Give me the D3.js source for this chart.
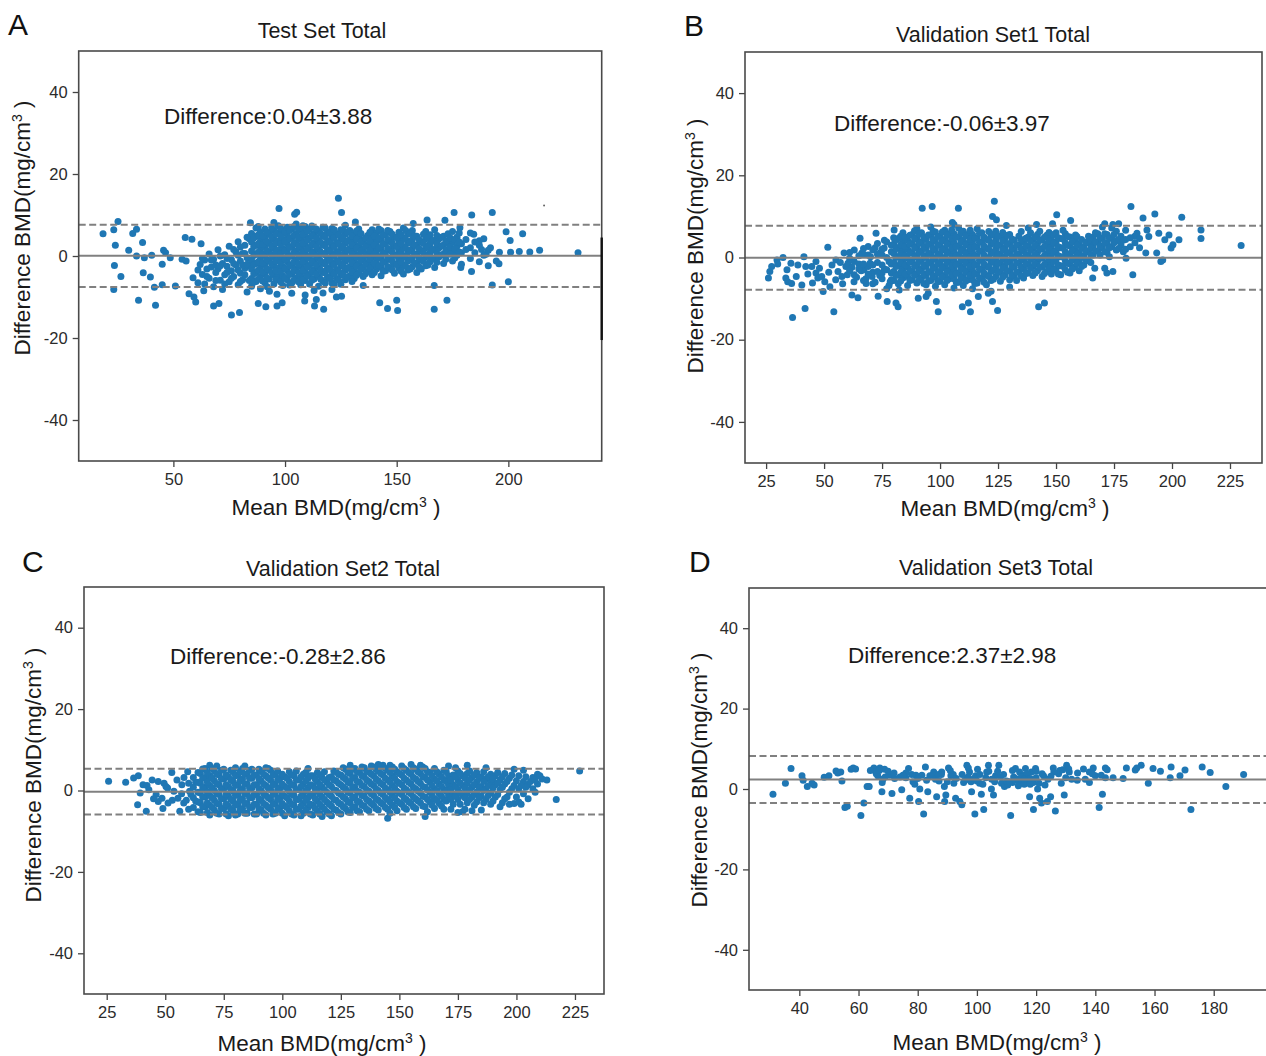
<!DOCTYPE html>
<html lang="en">
<head>
<meta charset="UTF-8">
<title>Bland-Altman plots of BMD</title>
<script src="https://d3js.org/d3.v7.min.js"></script>
<style>
    body { margin: 0; background: #fff; font-family: "Liberation Sans", Arial, sans-serif; }
    .tick text { font-size: 16.5px; fill: #2b2b2b; font-family: "Liberation Sans", Arial, sans-serif; }
    .tick line { stroke: #444; stroke-width: 1.3px; }
    .title { font-size: 21.5px; fill: #1a1a1a; text-anchor: middle; }
    .letter { font-size: 30px; fill: #111; }
    .note { font-size: 22.5px; fill: #1a1a1a; }
    .axis-label { font-size: 22.5px; fill: #1a1a1a; text-anchor: middle; }
</style>
</head>
<body>
<svg id="chart" width="1266" height="1056"></svg>
<script>
// ---- data ----
const yTicks = [-40, -20, 0, 20, 40];
const yDomain = [-50, 50];

// each entry: [mean BMD, [differences at that mean]]
const testSetPoints = [
  [18.5,[5.4]],[23.3,[6.4,-8.2]],[25.2,[8.4]],[24,[2.6]],[23.6,[-2.3]],[26.5,[-5]],[30,[1.4]],[31.8,[5.5]],
  [33.5,[6.5,0]],[34.4,[-10.8]],[36.2,[3.3]],[36.5,[-4.1]],[37,[-0.4]],[39.7,[-5.1]],[40.3,[0.2]],[42,[-12]],
  [41.5,[-7.6]],[45,[-2,-7]],[45.6,[1.4]],[46.5,[0.8]],[48.6,[-0.4]],[50.9,[-7.3]],[53.9,[-0.8]],[55.3,[4.5]],
  [58.3,[4.1]],[55.7,[-1.2]],[57,[-9.2]],[59.2,[-10]],[60,[-11.2]],[58.8,[-5.3]],[61,[-6.5]],[63.6,[-8.5]],
  [62.4,[3]],[68,[-12.2]],[70.4,[-11.6]],[76,[-14.4]],[79.6,[-13.8]],[84.5,[8.1]],[88,[-11.6]],[91.4,[-12.4]],
  [96.4,[-9.3,-12.2]],[98.7,[-11.4]],[97.3,[11.6]],[104.3,[10.2]],[105.2,[10.7]],[108.8,[-11]],[113.2,[-12.2]],
  [117.3,[-13]],[114,[-10.6]],[123.9,[14.1]],[125.3,[10.6,-9.8]],[131.5,[8.3]],[142.4,[-11.4]],[145.9,[-12.8]],
  [150,[-10.8]],[150.4,[-13.3]],[157.4,[7.9]],[163.6,[8.8]],[166.8,[-13,-7.2]],[172.5,[-10.8]],[171.6,[8.7]],
  [175.7,[10.6]],[183.6,[10]],[178.3,[6.9]],[184.5,[5.3]],[183.5,[-3.8]],[178.7,[-2.8]],[192.8,[10.6,-7.1]],
  [199,[5.9]],[200,[-6.3]],[200.8,[3.8]],[195.8,[-1.9]],[206.4,[5.4]],[204.9,[1.1]],[209.6,[1]],[214,[1.4]],
  [231.2,[0.8]],[196,[0.9]],[201,[0.9]],[190,[0.4]],[188,[1.6]],[187,[3.7]],[192,[2]],[194.6,[-1.2]],
  [62,[-2.1]],[63,[-4.5]],[64,[-1,-6.8]],[65,[-3.2]],[66,[0.5,-5.4]],[67,[-2.7]],[68,[-7.5,-0.8]],[69,[-4]],
  [70,[1.5,-3.1]],[71,[-5.9]],[72,[-1.8,-8.2]],[73,[0.3,-4.6]],[74,[-2.5]],[75,[2.4,-6.3]],[76,[-3.6,-0.9]],
  [77,[-5]],[78,[1,-2.2]],[79,[-7,3.5]],[80,[-4.2,-1.2]],[81,[0.6,-5.8]],[82,[-3,2.6]],[83,[-8.8,-0.4]],
  [84,[4.2,-2.4,-6]],
  [61,[-3.4]],[63,[-0.6]],[65,[-5]],[67,[-1]],[69,[-2.2,-6]],[71,[-2.4,0]],[73,[-6.8]],[74,[-0.6,-4]],[76,[-5.4]],
  [77,[-1.8,1.6]],[79,[-3.4,0.2]],[80,[-6.2,2.2]],[81,[-2.2]],[82,[-4.6,0.6]],[83,[-2,4.6]],
  [85,[-5.5,-3.2,-1,1.2,3.4,5.5,-7.4]],[87,[-6.2,-4,-1.8,0.4,2.6,4.8,6.8]],[89,[-5,-2.9,-0.7,1.5,3.7,5.9,-8]],
  [91,[-6.5,-4.3,-2.1,0.2,2.3,4.5,6.6]],[93,[-5.6,-3.4,-1.2,1,3.1,5.3,-8.6]],[95,[-6.8,-4.6,-2.4,-0.2,2,4.1,6.3,8.2]],
  [97,[-5.2,-3,-0.8,1.4,3.6,5.7,7.4]],[99,[-7.2,-4.9,-2.6,-0.4,1.8,4,6.1]],[101,[-5.8,-3.6,-1.4,0.8,3,5.1,7]],
  [103,[-6.6,-4.4,-2.2,0,2.2,4.4,6.6,-9.1]],[105,[-5.4,-3.2,-1,1.2,3.3,5.5,7.8]],[107,[-7,-4.8,-2.5,-0.3,1.9,4.1,6.2]],
  [109,[-6,-3.8,-1.6,0.6,2.8,5,7.2,-9.5]],[111,[-6.8,-4.5,-2.3,-0.1,2.1,4.3,6.5]],[113,[-5.6,-3.4,-1.2,1,3.2,5.4,-8.4]],
  [115,[-7.4,-5,-2.8,-0.6,1.6,3.8,6]],[117,[-6.2,-4,-1.8,0.4,2.6,4.8,7,-9]],[119,[-5.2,-3,-0.8,1.4,3.6,5.8]],
  [121,[-6.6,-4.3,-2.1,0.1,2.3,4.5,6.7,-8.2]],[123,[-5.5,-3.3,-1.1,1.1,3.3,5.5,-10]],[125,[-6.9,-4.6,-2.4,-0.2,2,4.2,6.4]],
  [127,[-5.8,-3.5,-1.3,0.9,3.1,5.3,7.5]],[129,[-4.8,-2.6,-0.4,1.8,4,6.2]],[131,[-5.5,-3.3,-1.1,1.1,3.3,5.5]],
  [133,[-4.2,-2,0.2,2.4,4.6,6.6]],[135,[-5,-2.8,-0.6,1.6,3.8,-7.2]],
  [137,[-3.8,-1.6,0.6,2.8,5]],[139,[-4.6,-2.4,-0.2,2,4.2,6.4]],[141,[-3.2,-1,1.2,3.4,5.6]],[143,[-4.8,-2.6,-0.4,1.8,4,6.2]],
  [145,[-3.6,-1.4,0.8,3,5.2]],[147,[-2.8,-0.6,1.6,3.8,6]],[149,[-4.2,-2,0.2,2.4,4.6]],[151,[-3,-0.8,1.4,3.6,5.8]],
  [153,[-4.4,-2.2,0,2.2,4.4,6.8]],[155,[-3.4,-1.2,1,3.2,5.4]],[157,[-2.6,-0.4,1.8,4,6.2]],[159,[-4,-1.8,0.4,2.6,4.8]],
  [161,[-3.2,-1,1.2,3.4]],[163,[-2.4,-0.2,2,4.2,6]],[165,[-1.4,0.8,3,5.2]],[167,[-2.8,-0.6,1.6,3.8,6.4]],
  [169,[-0.2,2,4.2]],[171,[-1.8,0.4,2.6,4.8]],[173,[1,3.2,5.4]],[175,[-1.2,1,3.4,6]],[177,[0.2,2.4,4.6]],
  [179,[-2,0.8,3]],[181,[1.6,4]],[183,[-0.6,2,5.6]],[185,[0.8,3.4]],[187,[-1.4,2.6]],[189,[0.2,4.2]],[191,[-2.4,1.4]],
  [86,[-4.3,-2.1,0.1,2.3,4.4,-6.4]],[88,[-5.7,-3.5,-1.4,0.9,3,5.1,7.2]],[90,[-3.9,-1.7,0.5,2.8,4.9,-6.1]],
  [92,[-5.4,-3.2,-0.9,1.3,3.5,5.8,-7.5]],[94,[-4.1,-1.9,0.3,2.5,4.7,6.9]],[96,[-5.8,-3.6,-1.3,0.9,3.1,5.3]],
  [98,[-3.8,-1.6,0.6,2.9,5,6.8,-6.3]],[100,[-5.4,-3.1,-0.9,1.3,3.6,5.9]],[102,[-4.5,-2.4,-0.1,2.1,4.2,6.2,-7.1]],
  [104,[-5.9,-3.6,-1.5,0.8,3,5,7.2]],[106,[-4.1,-2,0.3,2.5,4.6,6.7,-6.3]],[108,[-5.8,-3.5,-1.3,0.9,3.1,5.3,7.4]],
  [110,[-4.8,-2.7,-0.5,1.7,3.9,6.1]],[112,[-5.9,-3.8,-1.5,0.7,2.8,5,7.3]],[114,[-4.4,-2.2,0,2.3,4.4,6.6]],
  [116,[-5.7,-3.4,-1.2,1,3.3,5.5]],[118,[-4.1,-1.9,0.3,2.5,4.7,6.8,-6.6]],[120,[-5.5,-3.3,-1.1,1.2,3.4,5.6]],
  [122,[-4.3,-2.1,0.1,2.3,4.5,6.4,-7]],[124,[-5.9,-3.7,-1.4,0.8,3,5.2]],[126,[-4.6,-2.4,-0.2,2,4.2,6.3]],
  [128,[-5.2,-3,-0.8,1.4,3.6,5.8]],[130,[-3.9,-1.7,0.5,2.7,4.9,-6.2]],[132,[-4.7,-2.5,-0.3,1.9,4.1,6.1]],
  [134,[-3.2,-1,1.2,3.4,5.5]],[136,[-4.3,-2.1,0.1,2.3,4.4]],[138,[-3,-0.8,1.4,3.6,5.8]],[140,[-4,-1.8,0.4,2.6,4.9]],
  [142,[-2.3,-0.1,2.1,4.4,6.6]],[144,[-3.7,-1.5,0.7,2.9,5.1]],[146,[-2.6,-0.4,1.8,4,6.2]],[148,[-3.4,-1.2,1,3.2,5.3]],
  [150,[-2.1,0.1,2.3,4.5]],[152,[-3.7,-1.5,0.7,3,5.1]],[154,[-2.5,-0.3,1.9,4.1,6.2]],[156,[-3.2,-1,1.2,3.3,5.5]],
  [158,[-1.7,0.5,2.7,4.9]],[160,[-2.6,-0.4,1.8,4]],[162,[-1.3,0.9,3.1,5.3]],[164,[-2.2,0,2.2,4.4]],
  [166,[-0.6,1.6,3.8]],[168,[-1.5,0.7,2.9,5]],[170,[0.3,2.5,4.6]],[172,[-0.8,1.4,3.6]],[174,[0.4,2.2,4.4]],
  [176,[-0.5,1.8,4]],[178,[1,3.4,5.6]]
];
// stray marks at the right edge of panel A
const testSetEdgeBar = [4.5, -20.5];
const testSetSpeck = [216, 12.3];

const validation1Points = [
  [26,[-5]],[26.6,[-3.4]],[27.4,[-2.2]],[29.7,[-0.6]],[30,[-1.6]],[32.3,[0]],[33.5,[-5]],[34,[-3]],[34.3,[-5.9]],
  [35.7,[-1.4]],[36,[-6.3]],[36.4,[-14.6]],[38,[-4.6]],[38.7,[-1.8]],[40.4,[-6.7]],[41.3,[0.2]],[41.8,[-12.4]],
  [42.1,[-2.2]],[43,[-4]],[44.7,[-2.2]],[45,[-6.2]],[46.5,[-1,-3.8]],[47.3,[-5]],[48,[-2.6]],[49,[-4.6]],
  [49.6,[-8.3]],[50.3,[-5.9]],[51.6,[2.5]],[52,[-3.6]],[52.5,[-7.1]],[53.4,[-1.8]],[54.2,[-13.2]],[55,[-5.4]],
  [55.1,[-0.6]],[56,[-3.4]],[57,[-1.2]],[57.7,[-4.6]],[58,[-6.4]],[58.6,[1.1]],[59.4,[-2.2]],[60,[-4.2]],
  [60.3,[-1.4]],[61,[-0.2]],[62,[-9.1,-2.4]],[62.9,[-5.9]],[63,[1.8]],[64,[-4.8]],[64.6,[-9.8]],[65,[-1.6]],
  [65.5,[4.7]],[66,[-3.2]],[66.3,[1.1]],[67,[0.8]],[67.2,[-3]],[68,[-5.2]],[68.1,[-6.3]],[69,[2.7,-2.2]],
  [69.8,[-1.4]],[70,[0.2]],[70.7,[-4.6]],[71,[-3.6]],[72,[2.4,-6]],[72.4,[5.9]],[73,[-1.2]],[73.3,[-9.4]],
  [74,[-4.4]],[74.1,[1.1]],[75,[0.6,-3.8]],[75.9,[2.3]],[76,[-2.8,4.2]],[77,[3.8]],[77.2,[-10.7]],[78,[-1,-6.8]],
  [78.5,[-5.9]],[79,[1.4,-3.8]],[80.2,[6.7]],[81,[-11.1]],[81.9,[-12]],[82.4,[-7.9]],[90.6,[-9.9]],[94,[-9.5]],
  [94.9,[-8.7]],[92.3,[12]],[96.6,[12.4]],[98.4,[-10.7]],[99.2,[-13.2]],[107.9,[12]],[105.3,[8.5]],[109.6,[-12]],
  [112.2,[-11.1]],[113.1,[-13.2]],[116.5,[-9.5]],[120.8,[-8.7]],[122.6,[10,-10.7]],[123.4,[13.7]],[124.3,[9.2]],
  [124.8,[-12.9]],[128.6,[7.8]],[141.6,[8]],[142.5,[-12]],[145,[-11.1]],[150.3,[10.4]],[156.3,[9]],[148.5,[8.2]],
  [158.4,[5.5]],[165.8,[-5]],[166.7,[-2.6]],[171,[-2.6,8.2]],[171.9,[-3.8]],[174.5,[-3.4,8]],[177,[8.2]],
  [180.2,[-0.2]],[182.3,[12.4]],[183.1,[-4.2]],[184.9,[5.9]],[187.5,[9.6]],[189.2,[6.7]],[188.7,[1.1]],[190,[5.1]],
  [192.6,[10.6]],[193.4,[1.1]],[194.3,[5.9]],[195.2,[-1]],[196,[-0.6]],[196.9,[4.3]],[198.7,[5.5]],[199.6,[2.3]],
  [200.4,[3.1]],[203,[4.3]],[204.2,[9.8]],[212.5,[6.7,4.6]],[229.8,[2.9]],
  [61,[-3.2,1.2]],[63,[-1,-4.2]],[65,[0.4,-2.8]],[67,[-5.6,-1.6,2.2]],[69,[-4,0.6]],[71,[-1.8,1.8,-6.4]],
  [73,[-3.4,0.8,3.4]],[75,[-5.2,-1.8,2]],[77,[-3,0,-7.6]],[79,[-5.4,-1.6,3]],[80,[4.8]],
  [80,[-5.6,-3.4,-1.2,1,3.2]],[82,[-6.4,-4.2,-2,0.2,2.4,4.6]],[84,[-5,-2.8,-0.6,1.6,3.8,6]],
  [86,[-6.8,-4.6,-2.4,-0.2,2,4.2]],[88,[-5.4,-3.2,-1,1.2,3.4,5.6]],[90,[-6.2,-4,-1.8,0.4,2.6,4.8,7]],
  [92,[-5,-2.8,-0.6,1.6,3.8,6]],[94,[-6.6,-4.4,-2.2,0,2.2,4.4]],[96,[-5.6,-3.4,-1.2,1,3.2,5.4,7.4]],
  [98,[-7,-4.8,-2.6,-0.4,1.8,4,6.2]],[100,[-5.8,-3.6,-1.4,0.8,3,5.2]],[102,[-6.6,-4.4,-2.2,0,2.2,4.4,6.6]],
  [104,[-5.2,-3,-0.8,1.4,3.6,5.8]],[106,[-7.4,-5.2,-3,-0.8,1.4,3.6,5.8,8]],[108,[-6,-3.8,-1.6,0.6,2.8,5,7.2]],
  [110,[-6.8,-4.6,-2.4,-0.2,2,4.2,6.4]],[112,[-5.4,-3.2,-1,1.2,3.4,5.6]],[114,[-7.6,-5.4,-3.2,-1,1.2,3.4,5.6]],
  [116,[-6.2,-4,-1.8,0.4,2.6,4.8,7]],[118,[-5,-2.8,-0.6,1.6,3.8,6]],[120,[-6.6,-4.4,-2.2,0,2.2,4.4]],
  [122,[-5.6,-3.4,-1.2,1,3.2,5.4,-8.2]],[124,[-4.6,-2.4,-0.2,2,4.2,6.4]],[126,[-5.8,-3.6,-1.4,0.8,3,5.2]],
  [128,[-4.2,-2,0.2,2.4,4.6]],[130,[-5.4,-3.2,-1,1.2,3.4,5.6,-7.2]],[132,[-4.6,-2.4,-0.2,2,4.2]],
  [134,[-3.6,-1.4,0.8,3,5.2]],[136,[-5,-2.8,-0.6,1.6,3.8]],[138,[-3.8,-1.6,0.6,2.8,5,7.2]],
  [140,[-4.4,-2.2,0,2.2,4.4]],[142,[-3.2,-1,1.2,3.4,5.6]],[144,[-4.6,-2.4,-0.2,2,4.2]],[146,[-3.4,-1.2,1,3.2,5.4]],
  [148,[-4,-1.8,0.4,2.6,4.8]],[150,[-2.8,-0.6,1.6,3.8,6]],[152,[-4.2,-2,0.2,2.4,4.6]],[154,[-3,-0.8,1.4,3.6,5.8]],
  [156,[-3.8,-1.6,0.6,2.8,5]],[158,[-2.4,-0.2,2,4.2]],[160,[-3.2,-1,1.2,3.4]],[162,[-1.8,0.4,2.6]],
  [164,[-0.8,1.4,3.6,5.2]],[166,[0.6,2.8,5]],[168,[1.6,3.8,5.8]],[170,[2.4,4.6,7.4]],[172,[1.2,3.4,5.6]],
  [174,[2.6,4.8,7.2]],[176,[1.8,4,6.4]],[178,[3,5.2]],[180,[2,4.4,6.6]],[184,[3.6,5.2]],[186,[2.4,4.6]],
  [81,[-4.4,-2.2,0,2.1,4.3]],[83,[-5.7,-3.6,-1.3,0.9,3.1,5.2]],[85,[-4,-1.8,0.5,2.7,4.9]],
  [87,[-5.6,-3.4,-1.1,1.1,3.3,5.4]],[89,[-4.3,-2.1,0.1,2.3,4.5,6.5]],[91,[-5.5,-3.2,-1,1.2,3.5,5.8]],
  [93,[-4,-1.8,0.4,2.7,4.9,-6.3]],[95,[-5.7,-3.5,-1.2,1,3.2,5.5]],[97,[-4.5,-2.3,-0.1,2.1,4.4,6.4]],
  [99,[-5.9,-3.7,-1.5,0.8,3,5.1]],[101,[-4.7,-2.5,-0.3,1.9,4.1,6.2]],[103,[-5.6,-3.4,-1.2,1.1,3.3,5.5]],
  [105,[-4.2,-2,0.2,2.4,4.6,6.7]],[107,[-6.1,-3.9,-1.7,0.5,2.7,4.9]],[109,[-5,-2.8,-0.6,1.6,3.8,6]],
  [111,[-5.8,-3.6,-1.4,0.9,3.1,5.3]],[113,[-4.3,-2.1,0.1,2.3,4.5,6.6]],[115,[-6.3,-4.1,-1.9,0.3,2.5,4.6]],
  [117,[-5.1,-2.9,-0.7,1.5,3.7,5.9]],[119,[-6,-3.8,-1.6,0.6,2.8,4.9]],[121,[-4.6,-2.4,-0.2,2,4.2,6.3]],
  [123,[-5.3,-3.1,-0.9,1.3,3.5,5.6]],[125,[-3.6,-1.4,0.8,3,5.2]],[127,[-4.8,-2.6,-0.4,1.8,4,6.1]],
  [129,[-3.3,-1.1,1.1,3.3,5.4]],[131,[-4.3,-2.1,0.1,2.3,4.5]],[133,[-5.6,-3.5,-1.3,0.9,3.1]],
  [135,[-4.5,-2.3,-0.1,2.1,4.3,6.3]],[137,[-3.9,-1.7,0.5,2.7,4.7]],[139,[-2.7,-0.5,1.7,3.9,6]],
  [141,[-3.8,-1.6,0.6,2.8,5]],[143,[-2.3,-0.1,2.1,4.3,6.4]],[145,[-3.9,-1.7,0.5,2.7,4.9]],
  [147,[-2.6,-0.4,1.8,4,6.1]],[149,[-3.1,-0.9,1.3,3.5,5.6]],[151,[-4,-1.8,0.4,2.6,4.8]],
  [153,[-2.1,0.1,2.3,4.5,6.6]],[155,[-3.6,-1.4,0.8,3,5.1]],[157,[-2.8,-0.6,1.6,3.8]],[159,[-1.4,0.8,3,5.1]],
  [161,[-2.2,0,2.2,4.4]],[163,[-0.6,1.6,3.8]],[165,[-1.2,0.6,2.4,4.2]],[167,[1.6,3.8,6]],[169,[0.6,2.8,4.8]],
  [171,[1.4,3.6,5.8]],[173,[0.2,2.4,4.6]],[175,[3.6,5.6]],[177,[2.2,4.4]],[179,[1.4,4.2]],[182,[2.6,4.8]]
];

const validation2Points = [
  [25.8,[2.3]],[33.1,[2]],[36.5,[3.1]],[38.5,[3.6]],[38.2,[-3.5]],[39.3,[-0.6]],[40.5,[1.4]],[41.9,[-5.1]],
  [42.2,[1.2]],[44.4,[2.6]],[46.1,[-1]],[47,[-2.7]],[48.6,[-1.9]],[49.5,[1.8]],[51.2,[-3.1]],[50.3,[1]],
  [52.8,[4.4]],[53.7,[-0.2]],[55.4,[-1.9]],[56.2,[-5.1]],[57.1,[1.4]],[57.9,[-3.1]],[59.6,[4.6]],[60.4,[-0.2]],
  [43,[0.2]],[45,[-2]],[47,[2.2]],[49,[-4.4]],[51,[0.6]],[53,[-2.4]],[55,[2.6]],[57,[-0.8]],[58,[3.2]],
  [59,[-2.4]],[60,[1.8,-4.6]],[61,[-1]],[63,[-2.6,2]],
  [62,[-4.2,-1.8,0.8,3.2]],[65,[-5.4,-3,-0.6,1.8,4.2]],[67,[-4,-1.6,0.8,3.2,5.4]],[69,[-6,-3.6,-1.2,1.2,3.6,6.2]],
  [71,[-4.8,-2.4,0,2.4,4.8]],[73,[-5.8,-3.4,-1,1.4,3.8]],[75,[-4.4,-2,0.4,2.8,5.2]],[77,[-6.2,-3.8,-1.4,1,3.4]],
  [79,[-5,-2.6,-0.2,2.2,4.6]],[81,[-5.8,-3.4,-1,1.4,3.8]],[83,[-4.4,-2,0.4,2.8,5.4]],[85,[-5.6,-3.2,-0.8,1.6,4]],
  [87,[-4.2,-1.8,0.6,3,5.2]],[89,[-5.8,-3.4,-1,1.4,3.8]],[91,[-4.8,-2.4,0,2.4,4.8]],[93,[-6,-3.6,-1.2,1.2,3.6,5.6]],
  [95,[-4.6,-2.2,0.2,2.6,5]],[97,[-5.6,-3.2,-0.8,1.6,4]],[99,[-4.2,-1.8,0.6,3]],[101,[-6.2,-3.8,-1.4,1,3.4]],
  [103,[-5,-2.6,-0.2,2.2,4.6]],[105,[-6,-3.6,-1.2,1.2,3.6]],[107,[-4.6,-2.2,0.2,2.6]],[109,[-5.6,-3.2,-0.8,1.6,4]],
  [111,[-4.2,-1.8,0.6,3,5.4]],[113,[-6,-3.6,-1.2,1.2,3.6]],[115,[-5,-2.6,-0.2,2.2,4.4]],[117,[-6.4,-4,-1.6,0.8,3.2]],
  [119,[-5.2,-2.8,-0.4,2]],[121,[-6.2,-3.8,-1.4,1,3.4]],[123,[-4.8,-2.4,0,2.4,4.6]],[125,[-5.8,-3.4,-1,1.4,3.8]],
  [127,[-4.4,-2,0.4,2.8,5.2]],[129,[-5.4,-3,-0.6,1.8,4.2,6.2]],[131,[-4,-1.6,0.8,3.2,5.4]],[133,[-5.2,-2.8,-0.4,2,4.4]],
  [135,[-3.8,-1.4,1,3.4,5.6]],[137,[-5,-2.6,-0.2,2.2,4.6]],[139,[-3.6,-1.2,1.2,3.6,5.8]],[141,[-4.8,-2.4,0,2.4,4.8,6.4]],
  [143,[-3.4,-1,1.4,3.8,6.2]],[145,[-6.8,-4.6,-2.2,0.2,2.6,5]],[147,[-3.6,-1.2,1.2,3.6,5.8]],[149,[-5,-2.6,-0.2,2.2,4.6]],
  [151,[-3.4,-1,1.4,3.8,6]],[153,[-4.6,-2.2,0.2,2.6,5]],[155,[-3.2,-0.8,1.6,4,6.4]],[157,[-4.4,-2,0.4,2.8,5.2]],
  [159,[-3,-0.6,1.8,4.2,6.2]],[161,[-6.4,-4,-1.6,0.8,3.2,5.4]],[163,[-2.8,-0.4,2,4.4]],[165,[-4.4,-2,0.4,2.8,5.4]],
  [167,[-3.2,-0.8,1.6,4]],[169,[-4.6,-2.2,0.2,2.6,5]],[171,[-1.2,1.2,3.6,6]],[173,[-3.4,-1,1.4,3.8]],
  [175,[-5.4,-2.2,0.2,2.6,4.8]],[177,[-5.2,-1.2,1.2,3.6]],[179,[-3,-0.6,1.8,4.2,6.2]],[181,[-5,-1.6,0.8,3.2]],
  [183,[-2.8,-0.4,2,4.4]],[185,[-4.8,-1.4,1,3.4]],[187,[-2.2,0.4,2.8,5.6]],[189,[-3.4,-0.6,1.8,4]],
  [191,[-1.6,1.4,3.6]],[193,[-4,0.2,2.6]],[195,[-2,1.6,4.2]],[197,[-3.4,-0.4,3]],[199,[-3.2,1.2,5.2]],
  [201,[-2.8,0.4,3.6]],[203,[-0.8,2.2,5]],[205,[-2,1.4]],[207,[0.4,3.2]],[209,[1.6,4]],[211,[2.8]],[213,[2.6]],
  [217,[-2.2]],[227,[4.8]],
  [64,[-5.2,-2.8,-0.4,2,4.4]],[66,[-4,-1.6,0.6,3,5.3]],[68,[-5.4,-3,-0.4,2,4.4]],[70,[-4.2,-1.8,0.6,3,5.4]],
  [72,[-5.6,-3.2,-0.8,1.6,4,6]],[74,[-4.4,-2,0.4,2.8,5]],[76,[-5.8,-3.4,-1,1.4,3.8]],[78,[-4.6,-2.2,0.2,2.6,5]],
  [80,[-6,-3.6,-1.2,1.2,3.6,5.6]],[82,[-4.8,-2.4,0,2.4,4.6]],[84,[-5.6,-3.2,-0.8,1.6,4,6]],[86,[-4.2,-1.8,0.6,3,5]],
  [88,[-5.8,-3.4,-1,1.4,3.8]],[90,[-4.4,-2,0.4,2.8,5.2]],[92,[-5.6,-3.2,-0.8,1.6,4]],[94,[-4.2,-1.8,0.6,3,5.4]],
  [96,[-5.8,-3.4,-1,1.4,3.8]],[98,[-4.6,-2.2,0.2,2.6,4.8]],[100,[-5.6,-3.2,-0.8,1.6,4]],[102,[-4.2,-1.8,0.6,3]],
  [104,[-5.8,-3.4,-1,1.4,3.8]],[106,[-4.6,-2.2,0.2,2.6,4.8]],[108,[-6.2,-3.8,-1.4,1,3.4]],[110,[-4.8,-2.4,0,2.4,4.4]],
  [112,[-5.8,-3.4,-1,1.4,3.6]],[114,[-4.4,-2,0.4,2.8]],[116,[-5.8,-3.4,-1,1.4,3.8]],[118,[-4.6,-2.2,0.2,2.6,4.6]],
  [120,[-5.8,-3.4,-1,1.4,3.2]],[122,[-4.6,-2.2,0.2,2.6,4.8]],[124,[-5.4,-3,-0.6,1.8,4]],[126,[-4,-1.6,0.8,3.2,5.6]],
  [128,[-5.2,-2.8,-0.4,2,4.4]],[130,[-4.2,-1.8,0.6,3,5.2]],[132,[-5,-2.6,-0.2,2.2,4.6]],[134,[-3.6,-1.2,1.2,3.6,5.8]],
  [136,[-4.6,-2.2,0.2,2.6,4.8]],[138,[-3.2,-0.8,1.6,4,6]],[140,[-4.4,-2,0.4,2.8,5.2]],[142,[-3,-0.6,1.8,4.2,5.8]],
  [144,[-4.2,-1.8,0.6,3,5.4]],[146,[-5.6,-2.8,-0.4,2,4.4,6.2]],[148,[-4.2,-1.8,0.6,3,5.2]],[150,[-3,-0.6,1.8,4.2]],
  [152,[-4.2,-1.8,0.6,3,5.4]],[154,[-2.8,-0.4,2,4.4]],[156,[-4,-1.6,0.8,3.2,5.6]],[158,[-2.6,-0.2,2.2,4.6]],
  [160,[-3.8,-1.4,1,3.4,5.8]],[162,[-5.2,-2.2,0.2,2.6,4.6]],[164,[-3.6,-1.2,1.2,3.6]],[166,[-2.4,0,2.4,4.6]],
  [168,[-3.8,-1.4,1,3.4]],[170,[-2.6,-0.2,2.2,4.6]],[172,[-4.6,-2.2,0.2,2.6]],[174,[-1.4,1,3.4,5.6]],
  [176,[-3.4,-0.6,1.8,4.2]],[178,[-4.6,-1.8,0.6,3]],[180,[-2.2,0.2,2.6,4.8]],[182,[-3.6,-1,1.4,3.8]],
  [184,[-1.8,0.6,3]],[186,[-3,0,2.2,4.6]],[188,[-1.2,1.2,3.4]],[190,[-2.6,0.6,2.8]],[192,[-1,1.8,4.4]],
  [194,[-3,0.8,3.4]],[196,[-1.6,2.2]],[198,[0.4,3.8]],[200,[-1.6,2.4]],[202,[-3.4,1.2]],[204,[0.8,3.4]],
  [206,[2.2]],[208,[-0.4,2.6]],[210,[3.6]]
];

const validation3Points = [
  [31.1,[-1.3]],[35.3,[1.4]],[37.2,[5.1]],[40.9,[3.3]],[41.3,[2.2]],[42.7,[0.6]],[44.3,[1.4]],[48.4,[2.9]],
  [50,[3.3]],[52.4,[4.5]],[54,[4.2]],[54.4,[2]],[55.4,[-4.6]],[56.2,[-4.3]],[57.5,[4.9]],[58.2,[5.2]],
  [60.8,[-6.6]],[61.8,[-3.5]],[62.9,[0.6]],[63.6,[0.6]],[65.2,[5.2]],[65.9,[4.2]],[66.5,[3.3]],[67.2,[5.2]],
  [67.9,[-0.7]],[68.2,[2.4]],[68.8,[4.9]],[70.6,[3.4]],[71.3,[-1.1]],[72.2,[2.6]],[74.6,[-0.2]],[76,[2.8]],
  [76.9,[5.1]],[77.3,[-2.3]],[78.4,[1.8]],[79.4,[3.4]],[80.3,[-3.1]],[80.7,[0]],[81.4,[3.4]],[82,[-6.2]],
  [82.6,[5.5]],[83.4,[-0.7]],[84.1,[3.3]],[85.4,[4.2]],[86.4,[-1.9]],[87.2,[2]],[88.1,[4.2]],[89.1,[-3.1]],
  [89.5,[-1.5]],[90.4,[5.2]],[91.2,[3.3]],[92.2,[1.4]],[92.8,[-2.3]],[94.2,[-3.1]],[94.9,[-3.9]],[95.5,[1.6]],
  [96.6,[5.9]],[97.1,[5.2]],[97.5,[4.2]],[98.2,[-0.7]],[99.3,[-6.2]],[99.6,[3.3]],[100.2,[4.9]],[100.9,[1.4]],
  [101.5,[-1.3]],[102.3,[-5.1]],[103.3,[4.2]],[103.9,[5.9]],[104.9,[0]],[105.6,[-1.5]],[106.3,[3.3]],[107.4,[5.9]],
  [108.3,[1.4]],[109.3,[0.6]],[110.4,[1]],[111.4,[-6.6]],[112.4,[3]],[113,[5.1]],[113.7,[2.2]],[114.4,[4.2]],
  [115,[1.4]],[115.7,[3.4]],[116.4,[5.1]],[117.1,[2]],[117.8,[-1.9]],[118.4,[4.2]],[119.1,[-5.1]],[119.8,[5.1]],
  [120.5,[0]],[121.2,[-2.3]],[121.8,[-3.5]],[122.5,[3.3]],[123.8,[-3.1]],[124.9,[-1.9]],[125.8,[5.2]],[126.5,[-5.5]],
  [127.6,[3.8]],[128.5,[1.4]],[129.5,[-1.5]],[130.3,[5.9]],[131.2,[4.2]],[133.9,[2.2]],[136.6,[2.4]],[138,[4.2]],
  [139.3,[5.2]],[140,[3.3]],[141.3,[-4.6]],[142.4,[-1.3]],[143.4,[5.2,2.8]],[149.4,[2.6]],[150.5,[5.2]],[153.5,[4.7]],
  [155.5,[5.9]],[157.9,[1.4]],[159.5,[5.1]],[165.3,[2.8]],[165.6,[5.5]],[168.6,[3.3]],[170.3,[4.7]],[172.3,[-5.1]],
  [176.1,[5.5]],[178.8,[4.1]],[184.1,[0.6]],[190.1,[3.6]],
  [66,[3.8]],[67,[4.6]],[68,[1.6]],[69,[3]],[70,[4.4]],[96,[2.2]],[97,[3]],[98,[1.8]],[99,[2.6]],[100,[2]],
  [101,[3.6]],[102,[1.2]],[112,[1.6]],[113,[2.6]],[114,[0.8]],[115,[3]],[116,[1.2]],[117,[3.8]],[118,[2.6]],
  [119,[1.6]],[120,[2.8]],[121,[1.4]],[122,[3.8]],[110,[2]],[108,[3]],[105,[2.4]],[104,[4.4]],[85,[3.4]],
  [86,[2.4]],[88,[3.6]],[90,[1.8]],[92,[3.6]],[78,[3.6]],[80,[2.6]],[76,[4]],[74,[3]],[128,[4.6]],[130,[2.8]],
  [131,[5]],[132,[2.4]],[138,[1.6]],[139,[3.8]],[124,[2.4]],[126,[4.2]],
  [45,[1]],[53,[4]],[59,[5]],[64,[4.6]],[72,[4]],[75,[3.4]],[79,[1.2]],[83,[2.2]],[87,[3.6]],[89,[0.6]],
  [91,[4.6]],[93,[2.6]],[95,[3.6]],[103,[2.8]],[106,[1.8]],[107,[4.4]],[109,[3.6]],[111,[1.8]],[112,[4.6]],
  [116,[2.4]],[118,[1.2]],[120,[4.4]],[123,[1]],[125,[3.2]],[129,[4.8]],[134,[4]],[136,[5]],[142,[3.4]],
  [144,[4.8]],[146,[2.8]],[154,[5.2]],[162,[4.4]]
];

// panel settings: text, summary stats, axis ranges
const panelLetters = ["A", "B", "C", "D"];
const panelTitles = ["Test Set Total", "Validation Set1 Total", "Validation Set2 Total", "Validation Set3 Total"];
const diffMeans = [0.04, -0.06, -0.28, 2.37];
const diffSDs = [3.88, 3.97, 2.86, 2.98];
const xDomains = [[7.6, 241.8], [15.9, 238.8], [15.3, 237.4], [23, 198]];
const xTickSets = [[50, 100, 150, 200], [25, 50, 75, 100, 125, 150, 175, 200, 225],
                   [25, 50, 75, 100, 125, 150, 175, 200, 225], [40, 60, 80, 100, 120, 140, 160, 180]];
const pointSets = [testSetPoints, validation1Points, validation2Points, validation3Points];

// ---- layout of each panel on the page ----
const layouts = [
    { box: {l: 78.7, r: 601.7, t: 51, b: 461}, title: [322, 38], letter: [8, 35], note: [164, 124], xlab: [336, 515], ylab: [30, 228] },
    { box: {l: 745, r: 1262, t: 52, b: 463}, title: [993, 42], letter: [684, 36], note: [834, 131], xlab: [1005, 516], ylab: [703, 246] },
    { box: {l: 84, r: 604, t: 587, b: 994}, title: [343, 576], letter: [22, 572], note: [170, 664], xlab: [322, 1051], ylab: [41, 775] },
    { box: {l: 749, r: 1267, t: 588, b: 990}, title: [996, 575], letter: [689, 572], note: [848, 663], xlab: [997, 1050], ylab: [707, 780] }
];

const svg = d3.select("#chart");
svg.append("rect").attr("width", 1266).attr("height", 1056).attr("fill", "#fff");

const fmt = v => (v < 0 ? "-" : "") + Math.abs(v).toFixed(2);

layouts.forEach((lay, i) => {
    const b = lay.box;
    const x = d3.scaleLinear().domain(xDomains[i]).range([b.l, b.r]);
    const y = d3.scaleLinear().domain(yDomain).range([b.b, b.t]);
    const g = svg.append("g");

    g.append("clipPath").attr("id", "clip" + i)
        .append("rect").attr("x", b.l).attr("y", b.t).attr("width", b.r - b.l).attr("height", b.b - b.t);

    // scatter
    const pts = pointSets[i].flatMap(([m, ds]) => ds.map(d => [m, d]));
    g.append("g").attr("clip-path", `url(#clip${i})`)
        .selectAll("circle").data(pts).enter().append("circle")
        .attr("cx", d => x(d[0]))
        .attr("cy", d => y(d[1]))
        .attr("r", 3.5)
        .attr("fill", "#1f77b4");

    // mean and limits of agreement
    const mean = diffMeans[i], sd = diffSDs[i];
    const lines = [
        { v: mean, dash: null },
        { v: mean + 1.96 * sd, dash: "7,3.5" },
        { v: mean - 1.96 * sd, dash: "7,3.5" }
    ];
    g.selectAll("line.ref").data(lines).enter().append("line")
        .attr("class", "ref")
        .attr("x1", b.l).attr("x2", b.r)
        .attr("y1", d => y(d.v)).attr("y2", d => y(d.v))
        .attr("stroke", "#808080")
        .attr("stroke-width", 2)
        .attr("stroke-dasharray", d => d.dash);

    // axes (plain hyphen minus on tick labels, as in the figure)
    const xAxis = g.append("g")
        .attr("transform", `translate(0,${b.b})`)
        .call(d3.axisBottom(x).tickValues(xTickSets[i]).tickFormat(d => String(d)).tickSize(6).tickPadding(6));
    const yAxis = g.append("g")
        .attr("transform", `translate(${b.l},0)`)
        .call(d3.axisLeft(y).tickValues(yTicks).tickFormat(d => String(d)).tickSize(6).tickPadding(5));
    xAxis.select(".domain").remove();
    yAxis.select(".domain").remove();

    // frame
    g.append("rect")
        .attr("x", b.l).attr("y", b.t)
        .attr("width", b.r - b.l).attr("height", b.b - b.t)
        .attr("fill", "none").attr("stroke", "#4a4a4a").attr("stroke-width", 1.6);

    if (i === 0) {
        g.append("line")
            .attr("x1", b.r).attr("x2", b.r)
            .attr("y1", y(testSetEdgeBar[0])).attr("y2", y(testSetEdgeBar[1]))
            .attr("stroke", "#111").attr("stroke-width", 2.4);
        g.append("circle")
            .attr("cx", x(testSetSpeck[0])).attr("cy", y(testSetSpeck[1]))
            .attr("r", 1).attr("fill", "#666");
    }

    // texts
    g.append("text").attr("class", "letter")
        .attr("x", lay.letter[0]).attr("y", lay.letter[1]).text(panelLetters[i]);
    g.append("text").attr("class", "title")
        .attr("x", lay.title[0]).attr("y", lay.title[1]).text(panelTitles[i]);
    g.append("text").attr("class", "note")
        .attr("x", lay.note[0]).attr("y", lay.note[1])
        .text(`Difference:${fmt(mean)}±${sd.toFixed(2)}`);

    const xl = g.append("text").attr("class", "axis-label")
        .attr("x", lay.xlab[0]).attr("y", lay.xlab[1]);
    xl.append("tspan").text("Mean BMD(mg/cm");
    xl.append("tspan").attr("dy", -8).attr("font-size", "14px").text("3");
    xl.append("tspan").attr("dy", 8).text(" )");

    const yl = g.append("text").attr("class", "axis-label")
        .attr("transform", `translate(${lay.ylab[0]},${lay.ylab[1]}) rotate(-90)`);
    yl.append("tspan").text("Difference BMD(mg/cm");
    yl.append("tspan").attr("dy", -8).attr("font-size", "14px").text("3");
    yl.append("tspan").attr("dy", 8).text(" )");
});
</script>
</body>
</html>
